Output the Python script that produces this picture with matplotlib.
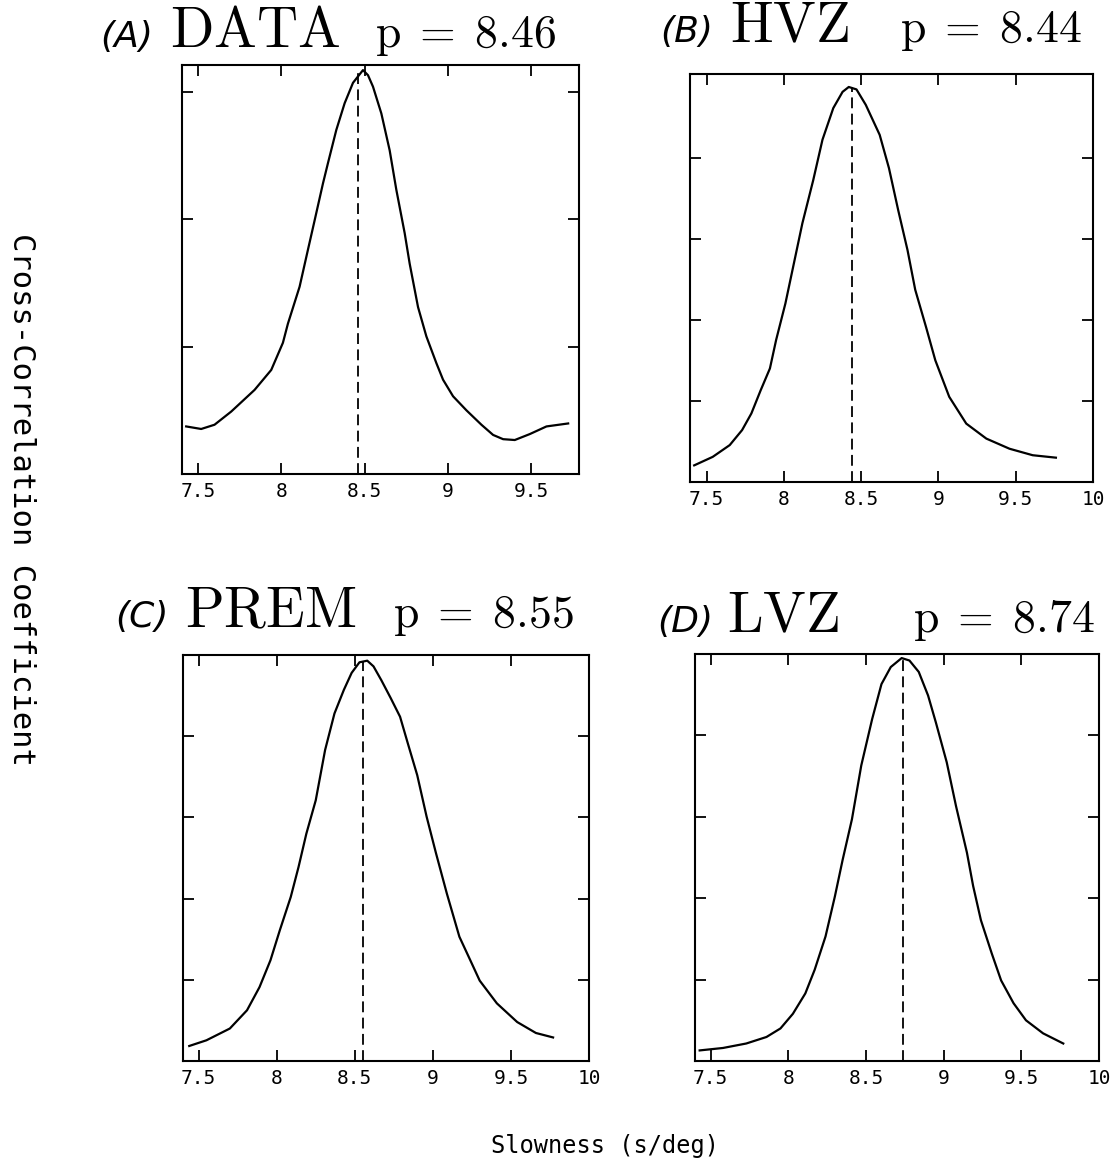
import matplotlib
matplotlib.use('Agg')
import matplotlib.pyplot as plt

plt.rcParams['mathtext.fontset'] = 'cm'

W, H = 1113, 1162

# slowness (s/deg) and relative cross-correlation
data_x = [7.43, 7.52, 7.60, 7.70, 7.84, 7.94, 8.01, 8.04, 8.11, 8.16, 8.20, 8.25,
          8.28, 8.33, 8.38, 8.43, 8.49, 8.52, 8.55, 8.60, 8.65, 8.69, 8.74, 8.77,
          8.82, 8.87, 8.93, 8.97, 9.03, 9.11, 9.20, 9.27, 9.33, 9.40, 9.49, 9.59, 9.72]
data_y = [0.112, 0.106, 0.116, 0.147, 0.198, 0.245, 0.309, 0.354, 0.441, 0.528, 0.597, 0.684,
          0.732, 0.810, 0.873, 0.921, 0.951, 0.939, 0.912, 0.849, 0.762, 0.669, 0.567, 0.495,
          0.393, 0.324, 0.261, 0.222, 0.183, 0.150, 0.116, 0.092, 0.082, 0.080, 0.094, 0.112, 0.119]

hvz_x = [7.42, 7.54, 7.65, 7.73, 7.79, 7.85, 7.91, 7.95, 8.01, 8.06, 8.12, 8.19, 8.25,
         8.32, 8.38, 8.42, 8.47, 8.53, 8.62, 8.68, 8.74, 8.80, 8.85, 8.92, 8.98, 9.07,
         9.18, 9.31, 9.46, 9.61, 9.76]
hvz_y = [0.041, 0.062, 0.091, 0.128, 0.169, 0.226, 0.280, 0.350, 0.440, 0.530, 0.638, 0.744, 0.844,
         0.922, 0.962, 0.974, 0.968, 0.930, 0.856, 0.774, 0.670, 0.572, 0.474, 0.382, 0.300, 0.210,
         0.144, 0.107, 0.082, 0.066, 0.060]

prem_x = [7.44, 7.55, 7.70, 7.81, 7.89, 7.96, 8.02, 8.09, 8.14, 8.19, 8.25, 8.31, 8.37,
          8.43, 8.48, 8.53, 8.58, 8.62, 8.67, 8.73, 8.79, 8.84, 8.90, 8.96, 9.02, 9.09,
          9.17, 9.24, 9.30, 9.41, 9.54, 9.66, 9.77]
prem_y = [0.037, 0.051, 0.080, 0.125, 0.182, 0.248, 0.322, 0.404, 0.478, 0.560, 0.642, 0.766, 0.856,
          0.914, 0.956, 0.982, 0.986, 0.972, 0.938, 0.894, 0.848, 0.782, 0.704, 0.602, 0.512, 0.412,
          0.306, 0.248, 0.198, 0.142, 0.096, 0.069, 0.058]

lvz_x = [7.43, 7.58, 7.73, 7.86, 7.95, 8.03, 8.11, 8.17, 8.24, 8.30, 8.35, 8.41, 8.47,
         8.54, 8.60, 8.66, 8.73, 8.78, 8.84, 8.90, 8.95, 9.02, 9.08, 9.15, 9.19, 9.24,
         9.31, 9.37, 9.45, 9.53, 9.64, 9.77]
lvz_y = [0.026, 0.032, 0.043, 0.059, 0.080, 0.116, 0.166, 0.224, 0.306, 0.404, 0.494, 0.594, 0.726,
         0.840, 0.926, 0.968, 0.990, 0.984, 0.956, 0.898, 0.832, 0.734, 0.626, 0.512, 0.430, 0.346,
         0.264, 0.198, 0.142, 0.100, 0.068, 0.043]

panel_letters = ['(A)', '(B)', '(C)', '(D)']
model_names = ['DATA', 'HVZ', 'PREM', 'LVZ']
best_p = [8.46, 8.44, 8.55, 8.74]

xticks_a = [7.5, 8, 8.5, 9, 9.5]
xticks_full = [7.5, 8, 8.5, 9, 9.5, 10]
yticks_a = [0.3, 0.6, 0.9]
yticks_full = [0.2, 0.4, 0.6, 0.8]


def px_rect(l, r, t, b):
    return [l / W, 1 - b / H, (r - l) / W, (b - t) / H]


def fx(x):
    return x / W


def fy(y):
    return 1 - y / H


fig = plt.figure(figsize=(W / 100, H / 100), dpi=100)

panels = [
    (data_x, data_y, px_rect(182, 579, 65, 474), (7.405, 9.785), (0, 0.963), xticks_a, yticks_a),
    (hvz_x, hvz_y, px_rect(690, 1093, 74, 482), (7.393, 10.0), (0, 1.006), xticks_full, yticks_full),
    (prem_x, prem_y, px_rect(183, 589, 655, 1061), (7.40, 10.0), (0, 1.0), xticks_full, yticks_full),
    (lvz_x, lvz_y, px_rect(695, 1099, 654, 1061), (7.40, 10.0), (0, 1.0), xticks_full, yticks_full),
]

# title anchors: letter x, name x, p x, baseline y (pixels)
title_pos = [(100, 170, 375, 47), (660, 730, 900, 42), (115, 185, 393, 627), (657, 727, 913, 632)]

for i, (xs, ys, rect, xl, yl, xt, yt) in enumerate(panels):
    ax = fig.add_axes(rect)
    ax.plot(xs, ys, color='k', lw=1.6)
    ax.plot([best_p[i], best_p[i]], [0, max(ys)], color='k', lw=1.3, ls=(0, (6, 3)))
    ax.set_xlim(*xl)
    ax.set_ylim(*yl)
    ax.set_xticks(xt)
    ax.set_xticklabels(['%g' % t for t in xt], family='DejaVu Sans Mono', fontsize=14)
    ax.set_yticks(yt)
    ax.set_yticklabels([])
    ax.tick_params(direction='in', length=8, width=1.3, top=True, right=True, pad=6)
    for s in ax.spines.values():
        s.set_linewidth(1.5)

    lx, nx, px, by = title_pos[i]
    fig.text(fx(lx), fy(by), panel_letters[i], fontsize=26, style='italic', va='baseline')
    fig.text(fx(nx), fy(by), r'$\mathrm{%s}$' % model_names[i], fontsize=41, va='baseline')
    fig.text(fx(px), fy(by), r'$\mathrm{p}\;=\;%.2f$' % best_p[i], fontsize=33, va='baseline')

fig.text(fx(605), fy(1146), 'Slowness (s/deg)', family='DejaVu Sans Mono', fontsize=17,
         ha='center', va='center')
fig.text(fx(21), fy(499), 'Cross-Correlation Coefficient', family='DejaVu Sans Mono',
         fontsize=22, rotation=-90, ha='center', va='center')

fig.savefig('out.png', dpi=100)
